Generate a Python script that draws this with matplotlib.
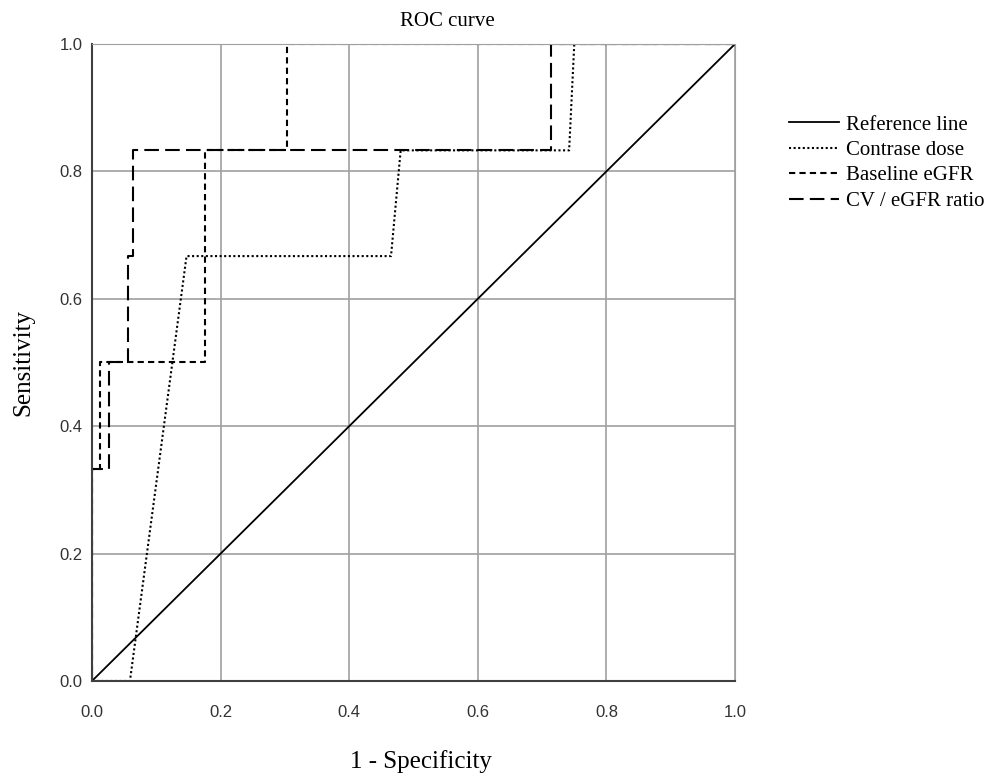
import matplotlib
matplotlib.use("Agg")
import matplotlib.pyplot as plt

plt.rcParams['font.family'] = ['Liberation Serif', 'DejaVu Serif']

# ROC points (1 - specificity, sensitivity)
ref_x = [0.0, 1.0]
ref_y = [0.0, 1.0]

dose_x = [0.0, 0.059, 0.147, 0.465, 0.480, 0.742, 0.750, 1.0]
dose_y = [0.0, 0.0, 0.667, 0.667, 0.833, 0.833, 1.0, 1.0]

egfr_x = [0.0, 0.0, 0.012, 0.012, 0.176, 0.176, 0.303, 0.303, 1.0]
egfr_y = [0.0, 0.333, 0.333, 0.5, 0.5, 0.833, 0.833, 1.0, 1.0]

ratio_x = [0.0, 0.0, 0.026, 0.026, 0.056, 0.056, 0.064, 0.064, 0.714, 0.714, 1.0]
ratio_y = [0.0, 0.333, 0.333, 0.5, 0.5, 0.667, 0.667, 0.833, 0.833, 1.0, 1.0]

ticks = [0.0, 0.2, 0.4, 0.6, 0.8, 1.0]

fig = plt.figure(figsize=(9.98, 7.77), dpi=100)
ax = fig.add_axes([0.0922, 0.1236, 0.6443, 0.8198])

ax.plot(ref_x, ref_y, color='black', lw=1.3, label='Reference line')
ax.plot(dose_x, dose_y, color='black', lw=1.5, linestyle=(0, (1, 1.2)), label='Contrase dose')
ax.plot(egfr_x, egfr_y, color='black', lw=1.5, linestyle=(0, (3, 2)), label='Baseline eGFR')
ax.plot(ratio_x, ratio_y, color='black', lw=1.5, linestyle=(0, (7, 3)), label='CV / eGFR ratio')

ax.set_xlim(0, 1)
ax.set_ylim(0, 1)
ax.set_xticks(ticks)
ax.set_yticks(ticks)
ax.set_xticklabels([f'{t:.1f}' for t in ticks], family='Liberation Sans', color='#333333')
ax.set_yticklabels([f'{t:.1f}' for t in ticks], family='Liberation Sans', color='#333333')
ax.tick_params(labelsize=12, length=0)
ax.tick_params(axis='x', pad=17)
ax.tick_params(axis='y', pad=7)
ax.grid(True, color='#a0a0a0', lw=1.2)
ax.set_axisbelow(True)
for side in ['top', 'right']:
    ax.spines[side].set_color('#a0a0a0')
for side in ['left', 'bottom']:
    ax.spines[side].set_color('#404040')
    ax.spines[side].set_linewidth(1.5)

fig.text(0.448, 0.972, 'ROC curve', fontsize=15, ha='center', va='center')
ax.set_xlabel('1 - Specificity', fontsize=18, va='center')
ax.xaxis.set_label_coords(0.512, -0.127)
ax.set_ylabel('Sensitivity', fontsize=18, labelpad=18)

ax.legend(loc='upper left', bbox_to_anchor=(1.055, 0.918), frameon=False,
          fontsize=15, handlelength=2.4, handletextpad=0.35, labelspacing=0.28)

fig.savefig('out.png', dpi=100)
